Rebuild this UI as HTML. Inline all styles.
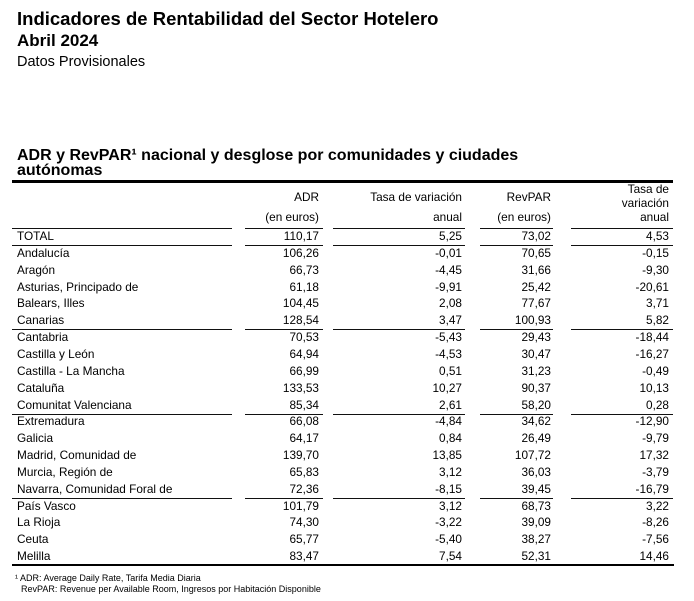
<!DOCTYPE html>
<html>
<head>
<meta charset="utf-8">
<style>
  html,body{margin:0;padding:0;background:#fff;}
  body{width:694px;height:601px;position:relative;overflow:hidden;
       font-family:"Liberation Sans",Arial,sans-serif;color:#000;}
  .a{position:absolute;white-space:nowrap;}
  .t1{left:17px;top:10.3px;font-size:18.5px;line-height:18.5px;font-weight:bold;}
  .t2{left:17px;top:31.6px;font-size:17px;line-height:17px;font-weight:bold;}
  .t3{left:17px;top:55.2px;font-size:14.5px;line-height:14.5px;}
  .h1{left:17px;top:147.5px;font-size:16px;line-height:16px;font-weight:bold;}
  .h2{left:17px;top:163.3px;font-size:16px;line-height:16px;font-weight:bold;}
  .hd{font-size:11.8px;line-height:11.8px;text-align:right;}
  .ln{position:absolute;height:1px;background:#111;}
  .row{position:absolute;left:0;width:694px;height:16.85px;font-size:11.8px;line-height:16.85px;}
  .row div{position:absolute;top:0;white-space:nowrap;}
  .c0{left:17px;}
  .c1{left:245px;width:74px;text-align:right;}
  .c2{left:333px;width:129px;text-align:right;}
  .c3{left:480px;width:71px;text-align:right;}
  .c4{left:571px;width:98px;text-align:right;}
  .fn{font-size:9px;line-height:9px;}
</style>
</head>
<body>
<div class="a t1">Indicadores de Rentabilidad del Sector Hotelero</div>
<div class="a t2">Abril 2024</div>
<div class="a t3">Datos Provisionales</div>

<div class="a h1">ADR y RevPAR¹ nacional y desglose por comunidades y ciudades</div>
<div class="a h2">autónomas</div>

<div style="position:absolute;left:12px;top:180px;width:661px;height:3px;background:#000;"></div>

<!-- header texts -->
<div class="a hd" style="left:245px;width:74px;top:192px;">ADR</div>
<div class="a hd" style="left:245px;width:74px;top:212px;">(en euros)</div>
<div class="a hd" style="left:333px;width:129px;top:192px;">Tasa de variación</div>
<div class="a hd" style="left:333px;width:129px;top:212px;">anual</div>
<div class="a hd" style="left:480px;width:71px;top:192px;">RevPAR</div>
<div class="a hd" style="left:480px;width:71px;top:212px;">(en euros)</div>
<div class="a hd" style="left:571px;width:98px;top:184px;">Tasa de</div>
<div class="a hd" style="left:571px;width:98px;top:197.5px;">variación</div>
<div class="a hd" style="left:571px;width:98px;top:212px;">anual</div>

<!-- segmented lines -->
<div class="ln" style="left:12px;width:220px;top:228px;"></div>
<div class="ln" style="left:245px;width:78px;top:228px;"></div>
<div class="ln" style="left:333px;width:132px;top:228px;"></div>
<div class="ln" style="left:480px;width:73px;top:228px;"></div>
<div class="ln" style="left:571px;width:102px;top:228px;"></div>

<div class="ln" style="left:12px;width:220px;top:245px;"></div>
<div class="ln" style="left:245px;width:78px;top:245px;"></div>
<div class="ln" style="left:333px;width:132px;top:245px;"></div>
<div class="ln" style="left:480px;width:73px;top:245px;"></div>
<div class="ln" style="left:571px;width:102px;top:245px;"></div>

<div class="ln" style="left:12px;width:220px;top:329px;"></div>
<div class="ln" style="left:245px;width:78px;top:329px;"></div>
<div class="ln" style="left:333px;width:132px;top:329px;"></div>
<div class="ln" style="left:480px;width:73px;top:329px;"></div>
<div class="ln" style="left:571px;width:102px;top:329px;"></div>

<div class="ln" style="left:12px;width:220px;top:414px;"></div>
<div class="ln" style="left:245px;width:78px;top:414px;"></div>
<div class="ln" style="left:333px;width:132px;top:414px;"></div>
<div class="ln" style="left:480px;width:73px;top:414px;"></div>
<div class="ln" style="left:571px;width:102px;top:414px;"></div>

<div class="ln" style="left:12px;width:220px;top:498px;"></div>
<div class="ln" style="left:245px;width:78px;top:498px;"></div>
<div class="ln" style="left:333px;width:132px;top:498px;"></div>
<div class="ln" style="left:480px;width:73px;top:498px;"></div>
<div class="ln" style="left:571px;width:102px;top:498px;"></div>

<div class="ln" style="left:12px;width:662px;top:564px;height:1.5px;background:#000;"></div>

<!-- rows -->
<div class="row" style="top:228px;"><div class="c0">TOTAL</div><div class="c1">110,17</div><div class="c2">5,25</div><div class="c3">73,02</div><div class="c4">4,53</div></div>
<div class="row" style="top:244.85px;"><div class="c0">Andalucía</div><div class="c1">106,26</div><div class="c2">-0,01</div><div class="c3">70,65</div><div class="c4">-0,15</div></div>
<div class="row" style="top:261.7px;"><div class="c0">Aragón</div><div class="c1">66,73</div><div class="c2">-4,45</div><div class="c3">31,66</div><div class="c4">-9,30</div></div>
<div class="row" style="top:278.55px;"><div class="c0">Asturias, Principado de</div><div class="c1">61,18</div><div class="c2">-9,91</div><div class="c3">25,42</div><div class="c4">-20,61</div></div>
<div class="row" style="top:295.4px;"><div class="c0">Balears, Illes</div><div class="c1">104,45</div><div class="c2">2,08</div><div class="c3">77,67</div><div class="c4">3,71</div></div>
<div class="row" style="top:312.25px;"><div class="c0">Canarias</div><div class="c1">128,54</div><div class="c2">3,47</div><div class="c3">100,93</div><div class="c4">5,82</div></div>
<div class="row" style="top:329.1px;"><div class="c0">Cantabria</div><div class="c1">70,53</div><div class="c2">-5,43</div><div class="c3">29,43</div><div class="c4">-18,44</div></div>
<div class="row" style="top:345.95px;"><div class="c0">Castilla y León</div><div class="c1">64,94</div><div class="c2">-4,53</div><div class="c3">30,47</div><div class="c4">-16,27</div></div>
<div class="row" style="top:362.8px;"><div class="c0">Castilla - La Mancha</div><div class="c1">66,99</div><div class="c2">0,51</div><div class="c3">31,23</div><div class="c4">-0,49</div></div>
<div class="row" style="top:379.65px;"><div class="c0">Cataluña</div><div class="c1">133,53</div><div class="c2">10,27</div><div class="c3">90,37</div><div class="c4">10,13</div></div>
<div class="row" style="top:396.5px;"><div class="c0">Comunitat Valenciana</div><div class="c1">85,34</div><div class="c2">2,61</div><div class="c3">58,20</div><div class="c4">0,28</div></div>
<div class="row" style="top:413.35px;"><div class="c0">Extremadura</div><div class="c1">66,08</div><div class="c2">-4,84</div><div class="c3">34,62</div><div class="c4">-12,90</div></div>
<div class="row" style="top:430.2px;"><div class="c0">Galicia</div><div class="c1">64,17</div><div class="c2">0,84</div><div class="c3">26,49</div><div class="c4">-9,79</div></div>
<div class="row" style="top:447.05px;"><div class="c0">Madrid, Comunidad de</div><div class="c1">139,70</div><div class="c2">13,85</div><div class="c3">107,72</div><div class="c4">17,32</div></div>
<div class="row" style="top:463.9px;"><div class="c0">Murcia, Región de</div><div class="c1">65,83</div><div class="c2">3,12</div><div class="c3">36,03</div><div class="c4">-3,79</div></div>
<div class="row" style="top:480.75px;"><div class="c0">Navarra, Comunidad Foral de</div><div class="c1">72,36</div><div class="c2">-8,15</div><div class="c3">39,45</div><div class="c4">-16,79</div></div>
<div class="row" style="top:497.6px;"><div class="c0">País Vasco</div><div class="c1">101,79</div><div class="c2">3,12</div><div class="c3">68,73</div><div class="c4">3,22</div></div>
<div class="row" style="top:514.45px;"><div class="c0">La Rioja</div><div class="c1">74,30</div><div class="c2">-3,22</div><div class="c3">39,09</div><div class="c4">-8,26</div></div>
<div class="row" style="top:531.3px;"><div class="c0">Ceuta</div><div class="c1">65,77</div><div class="c2">-5,40</div><div class="c3">38,27</div><div class="c4">-7,56</div></div>
<div class="row" style="top:548.15px;"><div class="c0">Melilla</div><div class="c1">83,47</div><div class="c2">7,54</div><div class="c3">52,31</div><div class="c4">14,46</div></div>

<!-- footnote -->
<div class="a fn" style="left:15px;top:573.9px;">¹ ADR: Average Daily Rate, Tarifa Media Diaria</div>
<div class="a fn" style="left:21px;top:585.4px;">RevPAR: Revenue per Available Room, Ingresos por Habitación Disponible</div>
</body>
</html>
